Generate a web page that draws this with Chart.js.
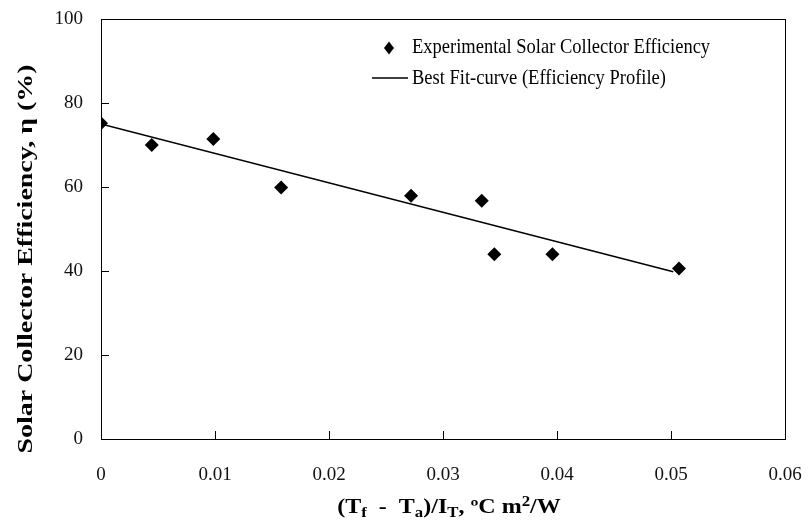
<!DOCTYPE html>
<html>
<head>
<meta charset="utf-8">
<script src="https://cdn.jsdelivr.net/npm/chart.js@4/dist/chart.umd.min.js"></script>
<style>
  html, body { margin: 0; padding: 0; background: #fff; }
  #wrap { width: 811px; height: 525px; position: relative; }
</style>
</head>
<body>
<div id="wrap"><canvas id="c" width="811" height="525"></canvas></div>
<script>
// ---- data ----
const expX = [0, 0.00445, 0.00985, 0.0158, 0.0272, 0.0334, 0.0345, 0.0396, 0.0507];
const expY = [75.2, 70.0, 71.4, 59.9, 57.9, 56.7, 44.0, 44.0, 40.6];
const fitX = [0, 0.0502];
const fitY = [75.0, 39.8];
const xTicks = [0, 0.01, 0.02, 0.03, 0.04, 0.05, 0.06];
const yTicks = [0, 20, 40, 60, 80, 100];
const legendLabels = ['Experimental Solar Collector Efficiency', 'Best Fit-curve (Efficiency Profile)'];
const yTitle = 'Solar Collector Efficiency, \u03B7 (%)';

const SERIF = '"Liberation Serif", "Times New Roman", serif';

const framePlugin = {
  id: 'frame',
  afterDraw(chart) {
    const ctx = chart.ctx;
    const a = chart.chartArea;
    const xs = chart.scales.x, ys = chart.scales.y;
    ctx.save();
    ctx.strokeStyle = '#000';
    ctx.lineWidth = 1;
    ctx.strokeRect(Math.round(a.left) + 0.5, Math.round(a.top) + 0.5,
                   Math.round(a.right - a.left), Math.round(a.bottom - a.top));
    // inward ticks
    ctx.beginPath();
    xTicks.forEach(v => {
      const px = Math.round(xs.getPixelForValue(v)) + 0.5;
      ctx.moveTo(px, a.bottom); ctx.lineTo(px, a.bottom - 8);
    });
    yTicks.forEach(v => {
      const py = Math.round(ys.getPixelForValue(v)) + 0.5;
      ctx.moveTo(a.left, py); ctx.lineTo(a.left + 8, py);
    });
    ctx.stroke();

    // legend
    ctx.fillStyle = '#000';
    ctx.textBaseline = 'alphabetic';
    ctx.textAlign = 'left';
    ctx.beginPath();
    ctx.moveTo(389, 41.5); ctx.lineTo(394, 48); ctx.lineTo(389, 54.5); ctx.lineTo(384, 48);
    ctx.closePath(); ctx.fill();
    ctx.beginPath();
    ctx.lineWidth = 1.3;
    ctx.moveTo(372, 78); ctx.lineTo(408, 78); ctx.stroke();
    ctx.font = '18.5px ' + SERIF;
    [[legendLabels[0], 53], [legendLabels[1], 84]].forEach(([t, by]) => {
      ctx.save();
      ctx.translate(412, by);
      ctx.scale(1, 1.12);
      ctx.fillText(t, 0, 0);
      ctx.restore();
    });

    // y title
    ctx.save();
    ctx.font = 'bold 21px ' + SERIF;
    ctx.translate(32, 259);
    ctx.rotate(-Math.PI / 2);
    ctx.scale(1.33, 1);
    ctx.textAlign = 'center';
    ctx.fillText(yTitle, 0, 0);
    ctx.restore();

    // x title with subscripts
    const parts = [
      ['(T', 'n'], ['f', 'sub'], ['  -  T', 'n'], ['a', 'sub'], [')/I', 'n'], ['T', 'sub'],
      [', \u00BAC m', 'n'], ['2', 'sup'], ['/W', 'n']
    ];
    const fN = 'bold 20px ' + SERIF, fS = 'bold 14px ' + SERIF;
    const sx = 1.2;
    let w = 0;
    parts.forEach(p => { ctx.font = p[1] === 'n' ? fN : fS; w += ctx.measureText(p[0]).width; });
    ctx.save();
    ctx.translate(449 - (w * sx) / 2, 513);
    ctx.scale(sx, 1);
    let x = 0;
    parts.forEach(p => {
      ctx.font = p[1] === 'n' ? fN : fS;
      const dy = p[1] === 'sub' ? 4 : (p[1] === 'sup' ? -7 : 0);
      ctx.fillText(p[0], x, dy);
      x += ctx.measureText(p[0]).width;
    });
    ctx.restore();
    ctx.restore();
  }
};

new Chart(document.getElementById('c'), {
  type: 'scatter',
  data: {
    datasets: [
      {
        label: legendLabels[0],
        data: expX.map((x, i) => ({ x, y: expY[i] })),
        pointStyle: 'rectRot',
        pointRadius: 7,
        pointHoverRadius: 7,
        backgroundColor: '#000',
        borderColor: '#000',
        borderWidth: 0,
        showLine: false,
        order: 1
      },
      {
        label: legendLabels[1],
        data: fitX.map((x, i) => ({ x, y: fitY[i] })),
        showLine: true,
        pointRadius: 0,
        borderColor: '#000',
        borderWidth: 1.5,
        backgroundColor: '#000',
        order: 2
      }
    ]
  },
  options: {
    responsive: false,
    animation: false,
    events: [],
    layout: { padding: { top: 19, right: 26, left: 0, bottom: 0 }, autoPadding: false },
    plugins: { legend: { display: false }, tooltip: { enabled: false } },
    scales: {
      x: {
        type: 'linear', min: 0, max: 0.06,
        afterBuildTicks(s) { s.ticks = xTicks.map(v => ({ value: v })); },
        afterFit(s) { s.height = 86; s.paddingLeft = 0; s.paddingRight = 0; },
        grid: { display: false, drawTicks: false },
        border: { display: true, color: '#000' },
        ticks: {
          padding: 25,
          color: '#111',
          font: { family: SERIF, size: 19 },
          maxRotation: 0,
          callback: v => String(+v.toFixed(2))
        }
      },
      y: {
        type: 'linear', min: 0, max: 100,
        afterBuildTicks(s) { s.ticks = yTicks.map(v => ({ value: v })); },
        afterFit(s) { s.width = 101; s.paddingTop = 0; s.paddingBottom = 0; },
        grid: { display: false, drawTicks: false },
        border: { display: true, color: '#000' },
        ticks: {
          padding: 18,
          color: '#111',
          font: { family: SERIF, size: 19 },
          callback: v => String(v)
        }
      }
    }
  },
  plugins: [framePlugin]
});
</script>
</body>
</html>
